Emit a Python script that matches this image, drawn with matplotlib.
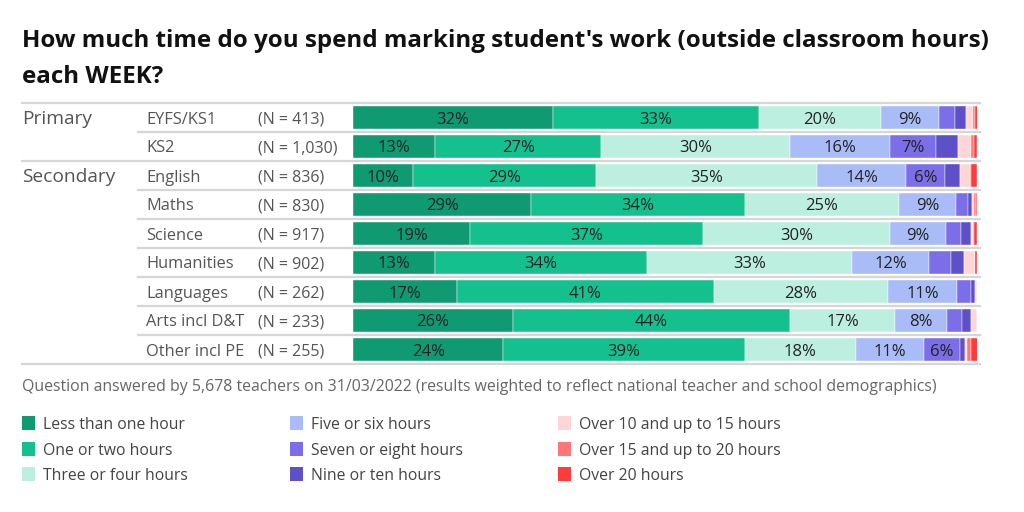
import matplotlib
matplotlib.use("Agg")
import matplotlib.pyplot as plt
from matplotlib.patches import Rectangle
from matplotlib.transforms import blended_transform_factory
import numpy as np

plt.rcParams['font.family'] = ['Open Sans', 'DejaVu Sans']

title_lines = ["How much time do you spend marking student's work (outside classroom hours)",
               "each WEEK?"]
footnote = ("Question answered by 5,678 teachers on 31/03/2022 (results weighted to reflect "
            "national teacher and school demographics)")

groups = ["Primary", "", "Secondary", "", "", "", "", "", ""]
subjects = ["EYFS/KS1", "KS2", "English", "Maths", "Science", "Humanities",
            "Languages", "Arts incl D&T", "Other incl PE"]
n_labels = ["(N = 413)", "(N = 1,030)", "(N = 836)", "(N = 830)", "(N = 917)",
            "(N = 902)", "(N = 262)", "(N = 233)", "(N = 255)"]

categories = ["Less than one hour", "One or two hours", "Three or four hours",
              "Five or six hours", "Seven or eight hours", "Nine or ten hours",
              "Over 10 and up to 15 hours", "Over 15 and up to 20 hours", "Over 20 hours"]

# rows: subjects; columns: categories (percent)
less_one   = [32.0, 13.2,  9.6, 28.6, 18.8, 13.2, 16.7, 25.6, 24.1]
one_two    = [33.0, 26.6, 29.4, 34.2, 37.3, 33.9, 41.1, 44.4, 38.7]
three_four = [19.6, 30.3, 35.3, 24.7, 29.9, 32.9, 27.9, 16.9, 17.8]
five_six   = [ 9.3, 16.0, 14.4,  9.1,  9.1, 12.3, 11.1,  8.3, 10.9]
seven_eight= [ 2.5,  7.3,  6.1,  2.0,  2.4,  3.6,  2.2,  2.4,  5.7]
nine_ten   = [ 1.9,  3.6,  2.4,  0.6,  1.5,  2.0,  0.6,  1.5,  0.9]
over10_15  = [ 1.0,  2.1,  1.7,  0.3,  0.4,  1.7,  0.4,  0.9,  0.3]
over15_20  = [ 0.3,  0.4,  0.1,  0.3,  0.1,  0.0,  0.0,  0.0,  0.6]
over20     = [ 0.5,  0.5,  1.0,  0.2,  0.5,  0.4,  0.0,  0.0,  1.1]

series = [less_one, one_two, three_four, five_six, seven_eight, nine_ten,
          over10_15, over15_20, over20]

colors = ["#0f9a72", "#15c08f", "#bdefe1", "#a9bcf8", "#7b6ee8", "#5e50c6",
          "#ffd6d6", "#ff7676", "#ff3c3c"]

W, H = 1024, 512
fig = plt.figure(figsize=(W / 100, H / 100), dpi=100)
renderer = fig.canvas.get_renderer()


def fit_width(txt, target_px):
    bb = txt.get_window_extent(renderer=renderer)
    txt.set_fontsize(txt.get_fontsize() * target_px / bb.width)
    return txt.get_fontsize()


# bar axes
x0, x1 = 353, 977
ytop, ybot = 103, 364
ax = fig.add_axes([x0 / W, 1 - ybot / H, (x1 - x0) / W, (ybot - ytop) / H])
nrows = len(subjects)
ypos = np.arange(nrows)
left = np.zeros(nrows)
for vals, col in zip(series, colors):
    vals = np.array(vals)
    ax.barh(ypos, vals, left=left, height=0.76, color=col, edgecolor="white", linewidth=0.3)
    for i, v in enumerate(vals):
        if v >= 5:
            ax.text(left[i] + v / 2, ypos[i], f"{v:.0f}%", ha="center", va="center_baseline",
                    fontsize=12, color="#222222")
    left += vals
ax.set_xlim(0, 100)
ax.set_ylim(nrows - 0.5, -0.5)
ax.axis("off")

trans = blended_transform_factory(fig.transFigure, ax.transData)
line_col = "#d6d6d6"
for b in range(nrows + 1):
    yb = b - 0.5
    xstart = 22 / W if b in (0, 2, nrows) else 138 / W
    ax.plot([xstart, 980 / W], [yb, yb], transform=trans, color=line_col, lw=1.6,
            clip_on=False, zorder=0)

for i in range(nrows):
    if groups[i]:
        ax.text(22 / W, ypos[i], groups[i], transform=trans, ha="left", va="center_baseline",
                fontsize=13.8, color="#555555")
    ax.text(146 / W, ypos[i], subjects[i], transform=trans, ha="left", va="center_baseline",
            fontsize=11.8, color="#555555")
    ax.text(258 / W, ypos[i], n_labels[i], transform=trans, ha="left", va="center_baseline",
            fontsize=11.5, color="#555555")

t1 = fig.text(22 / W, 1 - 47 / H, title_lines[0], ha="left", va="baseline", fontsize=16,
              fontweight="bold", color="#111111")
fs = fit_width(t1, 965)
fig.text(22 / W, 1 - 83 / H, title_lines[1], ha="left", va="baseline", fontsize=fs,
         fontweight="bold", color="#111111")

fn = fig.text(22 / W, 1 - 385 / H, footnote, ha="left", va="center_baseline", fontsize=11,
              color="#666666")
fit_width(fn, 916)

leg_x = [22, 290, 558]
leg_y = [423, 449, 474]
for k, (lab, col) in enumerate(zip(categories, colors)):
    cx = leg_x[k // 3]
    cy = leg_y[k % 3]
    fig.add_artist(Rectangle((cx / W, 1 - (cy + 7) / H), 13 / W, 14 / H,
                             transform=fig.transFigure, facecolor=col, edgecolor="none"))
    fig.text((cx + 21) / W, 1 - cy / H, lab, ha="left", va="center_baseline", fontsize=11.3,
             color="#444444")

fig.savefig("out.png", dpi=100)
